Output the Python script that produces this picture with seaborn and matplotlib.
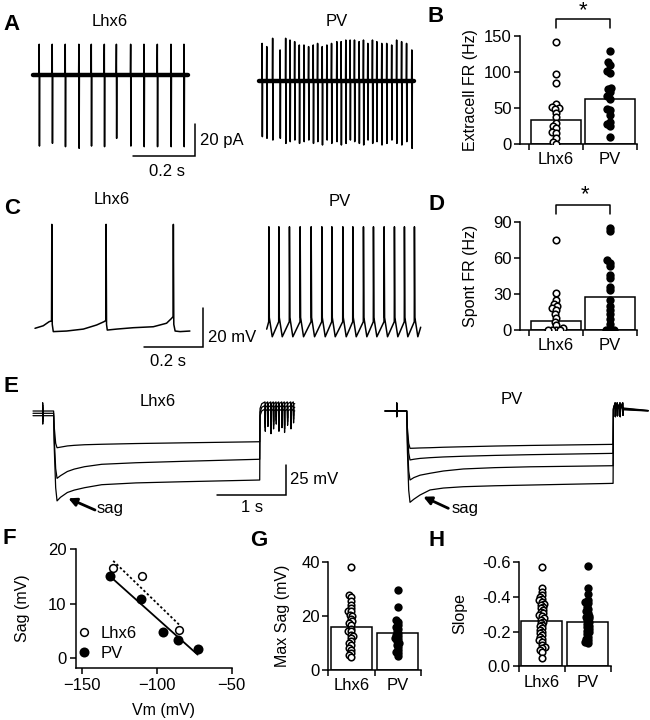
import numpy as np
import matplotlib
matplotlib.use("Agg")
import matplotlib.pyplot as plt
import seaborn as sns

# ---------------- values ----------------
groups = ["Lhx6", "PV"]

# A: cell-attached spikes (time s, current pA)
a_lhx6_spike_t = [0.020, 0.062, 0.104, 0.148, 0.188, 0.230, 0.269, 0.315, 0.358, 0.401, 0.445, 0.487]
a_lhx6_up = [19.2, 19.2, 19.2, 19.2, 19.2, 19.2, 19.2, 19.2, 19.2, 19.2, 19.2, 19.2]
a_lhx6_down = [-44.4, -42.7, -44.8, -45.8, -44.4, -44.8, -39.6, -44.4, -44.8, -44.8, -44.8, -44.8]
a_pv_spike_t = [0.010, 0.025, 0.044, 0.068, 0.086, 0.100, 0.115, 0.130, 0.145, 0.160, 0.175,
                0.189, 0.204, 0.219, 0.234, 0.251, 0.265, 0.280, 0.294, 0.308, 0.323, 0.337,
                0.351, 0.366, 0.380, 0.396, 0.412, 0.428, 0.444, 0.460, 0.476, 0.493]
a_pv_up = [23.5, 21.5, 26.7, 19.4, 26.7, 25.6, 24.6, 22.5, 22.5, 21.5, 22.5, 23.5, 21.5, 22.5,
           23.5, 24.6, 24.6, 25.6, 25.6, 25.6, 24.6, 25.6, 23.5, 25.6, 24.6, 23.5, 23.5, 22.5,
           25.6, 24.6, 23.5, 19.4]
a_pv_down = [-34.8, -35.8, -36.9, -35.8, -39.0, -37.9, -36.9, -39.0, -37.9, -36.9, -39.0, -37.9,
             -40.0, -36.9, -39.0, -37.9, -40.0, -39.0, -36.9, -37.9, -39.0, -40.0, -36.9, -39.0,
             -37.9, -40.0, -39.0, -36.9, -39.0, -40.0, -37.9, -42.1]
a_dur = 0.5

# B: extracellular firing rate (Hz)
b_means = [33, 62]
b_lhx6 = [142, 97, 85, 55, 52, 50, 48, 43, 37, 29, 25, 22, 17, 15, 8, 3, 0]
b_pv = [129, 114, 110, 101, 99, 78, 76, 72, 66, 63, 49, 47, 40, 31, 28, 25, 10]

# C: spontaneous firing, current clamp (time ms, voltage mV)
c_lhx6_t = [0, 28, 48, 56, 57, 58.5, 62, 107, 164, 209, 234, 240, 241, 242.5, 245, 277, 333,
            401, 446, 463, 468, 469, 470.5, 475, 492, 525]
c_lhx6_v = [0, 1.3, 3.4, 3.8, 53.3, 2, -1.7, -1.4, -0.4, 1.7, 3.4, 4, 53.3, 2, -0.9, -0.4, 0.3,
            0.8, 2.6, 5.1, 6, 53.3, 2, -1.4, -1.7, -1.4]
c_pv_spike_t = [6.8, 40.7, 76.6, 112.9, 150.2, 186.4, 220.3, 257.6, 291.5, 327.5, 361.4, 397.6,
                432.5, 466.4, 500.3]
c_pv_levels = [6.8, 55.5, -0.9]   # threshold, peak, trough
c_pv_dur = 522

# D: spontaneous firing rate (Hz)
d_means = [7.2, 27.3]
d_lhx6 = [75, 31, 25, 22, 20, 18, 17, 13, 10, 7, 4, 2, 0, 0, 0, 0]
d_pv = [85, 82, 58, 56, 53, 46, 43, 36, 33, 25, 20, 17, 13, 9, 5, 0, 0, 0]

# E: hyperpolarising steps (time s, voltage mV)
e_lhx6_t = [0, 0.30, 0.31, 0.33, 0.35, 0.40, 0.50, 0.60, 0.75, 1.0, 1.5, 2.2, 3.30]
e_lhx6_v = [
    [1.9, 1.9, -12, -25, -28.7, -28.2, -27.2, -26.7, -26.2, -25.8, -25.2, -24.6, -23.7],
    [0, 0, -22, -46, -54.2, -52, -48.5, -46.5, -44.5, -42.5, -41.2, -40, -38.3],
    [-2, -2, -30, -62, -73, -70, -66, -64, -62, -59.5, -58, -57, -55.6],
]
e_lhx6_post = [8, 5, 2]
e_lhx6_rebound_t = [3.377, 3.416, 3.460, 3.498, 3.537, 3.576, 3.620, 3.658, 3.702, 3.751, 3.789]
e_lhx6_rebound_v = [-12, -8, -14, -10, -6, -12, -9, -13, -7, -10, -5]
e_lhx6_end = 3.81
e_pv_t = [0, 0.316, 0.326, 0.345, 0.364, 0.42, 0.51, 0.655, 0.85, 1.14, 1.6, 2.11, 3.32]
e_pv_v = [
    [0, 0, -14, -27, -31.1, -31, -30.8, -30.6, -30.2, -29.8, -29.2, -28.7, -27.8],
    [0, 0, -18, -35, -40.8, -40.2, -39.5, -38.9, -38.3, -37.7, -37, -36.4, -35.3],
    [0, 0, -25, -50, -57.5, -55.5, -53.5, -51.9, -50, -48.3, -47.2, -46.5, -45.6],
    [0, 0, -33, -66, -76.1, -73.5, -70, -65.8, -64.2, -63.1, -62.3, -61.7, -60.3],
]
e_pv_post = [1.5, 1.0, 0.5, 0.0]
e_pv_rebound_t = [3.35, 3.38, 3.42, 3.46]
e_pv_rebound_v = [-4.7, -4.0, -4.7, -3.5]
e_pv_end = 3.83

# F: sag vs membrane potential
f_lhx6_vm = [-129, -110, -85]
f_lhx6_sag = [16.5, 15.1, 5.1]
f_pv_vm = [-131, -110.7, -95.6, -85.6, -72.7]
f_pv_sag = [15.1, 10.8, 4.8, 3.3, 1.6]

# G: max sag (mV)
g_means = [15.8, 13.6]
g_lhx6 = [38, 27.7, 26.9, 25.4, 24.2, 23, 22, 21.7, 20.5, 19.9, 19, 18, 17.5, 16.8, 15.3, 14.5,
          14.3, 13.1, 12.5, 11.9, 10.9, 10, 9.4, 8, 7.3, 6.2, 5.5, 5]
g_pv = [29.8, 23.2, 18.6, 17.8, 16.8, 16, 15.3, 14.5, 13.7, 13, 12.5, 12, 11.6, 10.6, 10, 9.4,
        8.5, 7.5, 6.8, 6.3, 5.1]

# H: slope
h_means = [-0.263, -0.258]
h_lhx6 = [-0.575, -0.45, -0.427, -0.41, -0.40, -0.39, -0.38, -0.373, -0.36, -0.354, -0.345,
          -0.335, -0.325, -0.315, -0.305, -0.296, -0.29, -0.277, -0.27, -0.258, -0.25, -0.238,
          -0.23, -0.219, -0.21, -0.2, -0.19, -0.18, -0.17, -0.16, -0.15, -0.142, -0.123, -0.11,
          -0.104, -0.095, -0.085, -0.05]
h_pv = [-0.58, -0.45, -0.42, -0.383, -0.37, -0.363, -0.344, -0.33, -0.32, -0.31, -0.292, -0.285,
        -0.277, -0.265, -0.254, -0.245, -0.235, -0.225, -0.215, -0.205, -0.196, -0.185, -0.171,
        -0.16, -0.152, -0.14, -0.133]

# ---------------- style ----------------
sns.set_style("ticks")
plt.rcParams["font.family"] = ["Liberation Sans", "DejaVu Sans"]
plt.rcParams["font.size"] = 12
for key in ["text.color", "axes.labelcolor", "xtick.color", "ytick.color", "axes.edgecolor"]:
    plt.rcParams[key] = "black"

W, H = 650, 720
FS = 12       # tick labels, titles
LFS = 11.5    # axis labels
fig = plt.figure(figsize=(6.5, 7.2), dpi=100)


def px_rect(left, top, right, bottom):
    return [left / W, 1 - bottom / H, (right - left) / W, (bottom - top) / H]


def trace_ax(x0, y0, xs, ys):
    # invisible full-figure axes: data (0, 0) sits at pixel (x0, y0)
    ax = fig.add_axes([0, 0, 1, 1])
    ax.set_axis_off()
    return ax, (-x0 / xs, (W - x0) / xs), ((y0 - H) / ys, y0 / ys)


def line(ax, t, v, lw):
    sns.lineplot(x=np.asarray(t, float), y=np.asarray(v, float), ax=ax, sort=False,
                 estimator=None, color="black", linewidth=lw)


# ---------------- A ----------------
def extra_trace(times, ups, downs, dur):
    t, v = [0.0], [0.0]
    for ts, u, d in zip(times, ups, downs):
        t += [ts - 0.0008, ts, ts + 0.0008, ts + 0.0016]
        v += [0.0, u, d, 0.0]
    t.append(dur)
    v.append(0.0)
    return t, v


for x0, y0, st, up, dn in [(33, 75, a_lhx6_spike_t, a_lhx6_up, a_lhx6_down),
                           (259, 81, a_pv_spike_t, a_pv_up, a_pv_down)]:
    ax, xl, yl = trace_ax(x0, y0, 310, 1.6)
    line(ax, [0, a_dur], [0, 0], 3.2)
    t, v = extra_trace(st, up, dn, a_dur)
    line(ax, t, v, 1.1)
    ax.set_xlim(xl)
    ax.set_ylim(yl)

# ---------------- C ----------------
ax, xl, yl = trace_ax(35, 328.3, 0.295, 1.95)
line(ax, c_lhx6_t, c_lhx6_v, 1.1)
ax.set_xlim(xl)
ax.set_ylim(yl)

thr, peak, trough = c_pv_levels
t, v = [0.0], [3.0]
for ts in c_pv_spike_t:
    t += [ts, ts + 0.5, ts + 2, ts + 12]
    v += [thr, peak, 9, trough]
t.append(c_pv_dur)
v.append(4)
ax, xl, yl = trace_ax(266.7, 335, 0.295, 1.95)
line(ax, t, v, 1.1)
ax.set_xlim(xl)
ax.set_ylim(yl)

# ---------------- E ----------------
ax, xl, yl = trace_ax(33, 413.3, 68.7, 1.2)
for vals, post in zip(e_lhx6_v, e_lhx6_post):
    off = vals[0]
    t = [0, 0.141, 0.141, 0.142, 0.143] + e_lhx6_t[1:] + [e_lhx6_t[-1] + 0.005,
                                                          e_lhx6_t[-1] + 0.03]
    v = [off, off, off + 6.9, off - 7, off] + vals[1:] + [post - 4, post]
    for ts, dv in zip(e_lhx6_rebound_t, e_lhx6_rebound_v):
        t += [ts, ts + 0.004, ts + 0.008]
        v += [post + 1.5, dv + (post - 5), post]
    t.append(e_lhx6_end)
    v.append(post)
    line(ax, t, v, 0.9)
ax.set_xlim(xl)
ax.set_ylim(yl)

ax, xl, yl = trace_ax(385, 411, 68.7, 1.2)
for vals, post in zip(e_pv_v, e_pv_post):
    t = [0, 0.17, 0.17, 0.171, 0.172] + e_pv_t[1:] + [e_pv_t[-1] + 0.005]
    v = [0, 0, 6.7, -4.7, 0] + vals[1:] + [post + 1]
    for ts, dv in zip(e_pv_rebound_t, e_pv_rebound_v):
        t += [ts, ts + 0.004, ts + 0.008]
        v += [6.7, dv, post + 1]
    t.append(e_pv_end)
    v.append(post * 0.3)
    line(ax, t, v, 0.9)
ax.set_xlim(xl)
ax.set_ylim(yl)

# ---------------- bar + swarm panels ----------------
OPEN_SIZE, OPEN_LW, FILL_SIZE = 4.7, 1.15, 6.0
swarm_sets = []


def swarm(ax, label, vals, open_marker, size):
    before = set(ax.collections)
    if open_marker:
        sns.swarmplot(x=[label] * len(vals), y=vals, order=groups, color="white",
                      edgecolor="black", linewidth=0.2, size=size, ax=ax)
    else:
        sns.swarmplot(x=[label] * len(vals), y=vals, order=groups, color="black",
                      size=size, ax=ax)
    for c in ax.collections:
        if c not in before:
            swarm_sets.append((c, open_marker))


def cat_panel(rect, xleft, ylim, yticks, ylabels, means, vals_lhx6, vals_pv, width, size):
    ax = fig.add_axes(px_rect(*rect))
    sns.barplot(x=groups, y=means, order=groups, color="white", edgecolor="black",
                linewidth=1.1, width=width, errorbar=None, saturation=1, ax=ax)
    swarm(ax, "Lhx6", vals_lhx6, True, size)
    swarm(ax, "PV", vals_pv, False, size)
    ax.set_xlim(xleft, 1.5)
    ax.set_ylim(*ylim)
    ax.set_xticks([0, 1])
    ax.set_xticklabels(groups)
    ax.set_xticks([-0.5, 0.5, 1.5], minor=True)
    ax.tick_params(axis="x", which="major", length=0, pad=6, labelsize=FS)
    ax.tick_params(axis="x", which="minor", length=4.5, width=1.1)
    ax.set_yticks(yticks)
    ax.set_yticklabels(ylabels)
    ax.tick_params(axis="y", length=4.5, width=1.1, pad=1.5, labelsize=FS)
    ax.set_xlabel("")
    ax.set_ylabel("")
    sns.despine(ax=ax)
    for s in ax.spines.values():
        s.set_linewidth(1.1)
    return ax


ax_b = cat_panel((520, 36, 637, 144), -0.667, (0, 150), [0, 50, 100, 150],
                 ["0", "50", "100", "150"], b_means, b_lhx6, b_pv, 0.93, 2.5)
ax_b.plot([0, 0, 1, 1], [161, 173.6, 173.6, 161], color="black", lw=1.1, clip_on=False)

ax_d = cat_panel((520, 221.7, 637, 330), -0.667, (0, 90), [0, 30, 60, 90],
                 ["0", "30", "60", "90"], d_means, d_lhx6, d_pv, 0.93, 2.5)
ax_d.plot([0, 0, 1, 1], [96.7, 104.2, 104.2, 96.7], color="black", lw=1.1, clip_on=False)

cat_panel((328, 562, 421, 670), -0.5, (0, 40), [0, 20, 40], ["0", "20", "40"],
          g_means, g_lhx6, g_pv, 0.88, 1.8)
cat_panel((519, 562.3, 610.7, 666.3), -0.5, (0, -0.6), [0, -0.2, -0.4, -0.6],
          ["0.0", "-0.2", "-0.4", "-0.6"], h_means, h_lhx6, h_pv, 0.895, 1.8)

# ---------------- F ----------------
ax_f = fig.add_axes(px_rect(76, 549, 231.7, 668))
sns.regplot(x=np.array(f_lhx6_vm), y=np.array(f_lhx6_sag), scatter=False, ci=None, truncate=True,
            color="black", line_kws=dict(lw=1.3, ls=(0, (1.3, 1.3))), ax=ax_f)
sns.regplot(x=np.array(f_pv_vm), y=np.array(f_pv_sag), scatter=False, ci=None, truncate=True,
            color="black", line_kws=dict(lw=1.3), ax=ax_f)
sns.scatterplot(x=f_lhx6_vm, y=f_lhx6_sag, color="white", edgecolor="black", linewidth=1.1,
                s=31, label="Lhx6", zorder=3, ax=ax_f)
sns.scatterplot(x=f_pv_vm, y=f_pv_sag, color="black", edgecolor="black", linewidth=0,
                s=52, label="PV", zorder=3, ax=ax_f)
ax_f.set_xlim(-153.8, -50)
ax_f.set_ylim(-1.83, 20)
ax_f.set_xticks([-150, -100, -50])
ax_f.set_yticks([0, 10, 20])
ax_f.tick_params(length=4.5, width=1.1, pad=2.5, labelsize=FS)
ax_f.set_xlabel("")
ax_f.set_ylabel("")
sns.despine(ax=ax_f)
for s in ax_f.spines.values():
    s.set_linewidth(1.1)
ax_f.legend(loc="lower left", bbox_to_anchor=(0.0, 0.06), frameon=False, borderpad=0,
            borderaxespad=0, handlelength=0.9, handletextpad=0.6, labelspacing=0.3,
            scatteryoffsets=[0.5], fontsize=FS)

# ---------------- overlay: letters, titles, labels, scale bars ----------------
ov = fig.add_axes([0, 0, 1, 1])
ov.set_xlim(0, W)
ov.set_ylim(H, 0)
ov.set_axis_off()

for letter, x, y in [("A", 11, 25), ("B", 436, 17), ("C", 12, 208), ("D", 436, 205),
                     ("E", 11, 387), ("F", 9, 538), ("G", 259, 540), ("H", 437, 540)]:
    ov.text(x, y, letter, fontsize=16, fontweight="bold", ha="center", va="center")

for txt, x, y in [("Lhx6", 110, 22), ("PV", 337, 22), ("Lhx6", 112, 200), ("PV", 340, 202),
                  ("Lhx6", 158, 402), ("PV", 512, 400), ("0.2 s", 167, 172),
                  ("0.2 s", 168, 362), ("1 s", 252, 508)]:
    ov.text(x, y, txt, fontsize=FS, ha="center", va="center")
ov.text(163, 710, "Vm (mV)", fontsize=LFS, ha="center", va="center")

for txt, x, y in [("20 pA", 200, 141), ("20 mV", 208, 337), ("25 mV", 290, 480),
                  ("sag", 97, 508), ("sag", 452, 508)]:
    ov.text(x, y, txt, fontsize=FS, ha="left", va="center")

for txt, x, y in [("Extracell FR (Hz)", 470, 90), ("Spont FR (Hz)", 471, 276),
                  ("Sag (mV)", 23, 608), ("Max Sag (mV)", 282, 616), ("Slope", 460, 614)]:
    ov.text(x, y, txt, fontsize=LFS, ha="center", va="center", rotation=90)

for x, y in [(583, 11), (585, 195)]:
    ov.text(x, y, "*", fontsize=16, ha="center", va="center")

# scale bars
for xs_, ys_ in [([195, 195, 133], [124, 156, 156]), ([203, 203, 144], [308, 347, 347]),
                 ([286, 286, 217.3], [465, 495, 495])]:
    ov.plot(xs_, ys_, color="black", lw=1.1, solid_joinstyle="miter")

# sag arrows
for head, tail in [((68.3, 498.3), (95, 510)), ((423.3, 496.7), (448.3, 508.3))]:
    ov.annotate("", xy=head, xytext=tail,
                arrowprops=dict(arrowstyle="-|>", color="black", lw=2.0, mutation_scale=12,
                                shrinkA=0, shrinkB=0))

# lay out the swarms with small markers, then freeze them at full size
fig.canvas.draw()
for coll, open_marker in swarm_sets:
    if "draw" in coll.__dict__:
        del coll.draw
    if open_marker:
        coll.set_sizes([OPEN_SIZE ** 2])
        coll.set_facecolor("white")
        coll.set_edgecolor("black")
        coll.set_linewidth(OPEN_LW)
    else:
        coll.set_sizes([FILL_SIZE ** 2])
        coll.set_facecolor("black")
        coll.set_edgecolor("black")
        coll.set_linewidth(0)
    coll.set_zorder(3)

fig.savefig("out.png", dpi=100)
